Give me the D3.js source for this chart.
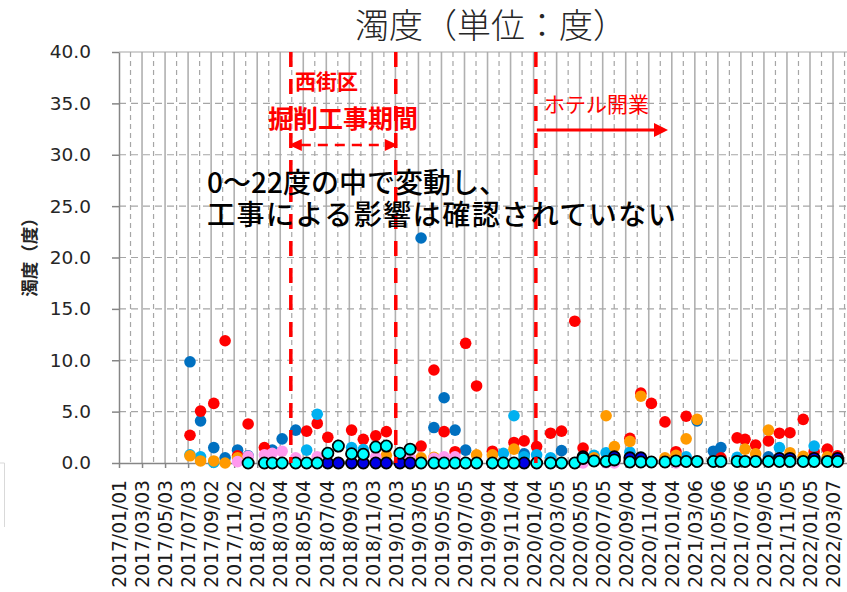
<!DOCTYPE html>
<html>
<head>
<meta charset="utf-8">
<script src="https://cdnjs.cloudflare.com/ajax/libs/d3/7.8.5/d3.min.js"></script>
<style>
  body { margin: 0; background: #fff; }
  svg { display: block; }
</style>
</head>
<body>
<script>
// fechas de muestreo
var fechas = [
  "2017-07-08","2017-08-05","2017-09-09","2017-10-09","2017-11-11","2017-12-09",
  "2018-01-21","2018-02-11","2018-03-09","2018-04-14","2018-05-13","2018-06-10",
  "2018-07-08","2018-08-05","2018-09-09","2018-10-10","2018-11-12","2018-12-10",
  "2019-01-15","2019-02-11","2019-03-12","2019-04-15","2019-05-12","2019-06-10",
  "2019-07-08","2019-08-06","2019-09-17","2019-10-16","2019-11-13","2019-12-10",
  "2020-01-12","2020-02-18","2020-03-18","2020-04-22","2020-05-14","2020-06-12",
  "2020-07-14","2020-08-05","2020-09-15","2020-10-14","2020-11-11","2020-12-17",
  "2021-01-15","2021-02-11","2021-03-12","2021-04-24","2021-05-14","2021-06-26",
  "2021-07-17","2021-08-14","2021-09-17","2021-10-16","2021-11-13","2021-12-18",
  "2022-01-16","2022-02-20","2022-03-19"
]

// valores por punto de medición (null = sin dato)
var rojo = [2.7,5.05,5.8,11.9,0.7,3.8, 1.5,null,null,null,3.1,3.85, 2.5,null,3.2,2.3,2.65,3.05,
  null,null,1.65,9.05,3.05,1.1, 11.65,7.5,1.15,null,2.0,2.15, 1.6,2.9,3.1,13.8,1.45,null,
  null,null,2.4,6.8,5.8,4.0, 1.1,4.55,null,null,0.5,2.45, 2.3,1.75,2.15,2.9,2.95,4.25, 1.1,1.35,0.7]
var azul = [9.85,4.1,1.5,0.5,1.25,0.7, null,1.25,2.35,3.2,null,null, null,null,null,null,null,null,
  null,null,21.9,3.45,6.35,3.2, 1.25,null,null,null,null,0.9, null,null,1.2,null,null,null,
  null,null,null,null,null,null, null,null,4.1,1.15,1.5,null, null,null,0.6,null,null,null, null,null,null]
var celeste = [0.8,0.6,0.05,null,null,null, null,null,null,null,1.25,4.75, null,null,1.5,1.3,null,null,
  null,null,null,null,null,null, null,null,null,0.95,4.6,0.6, 0.8,0.5,null,null,null,0.75,
  1.0,null,1.05,null,null,null, null,0.6,null,null,null,0.55, null,null,null,1.5,null,null, 1.65,null,null]
var naranja = [0.7,0.2,0.2,0.0,0.5,null, null,null,null,null,null,null, null,null,null,null,null,0.75,
  null,null,0.5,0.55,null,null, null,0.8,0.8,null,1.35,null, null,null,null,null,null,0.5,
  4.6,1.6,2.1,6.5,null,0.5, 0.75,2.35,4.25,null,null,null, 1.35,0.9,3.2,null,1.0,0.65, null,0.6,null]
var rosa = [null,null,null,null,0.13,0.65, 0.8,0.95,1.15,0.5,null,0.6, null,null,null,null,0.6,null,
  0.4,0.5,null,0.45,0.6,0.6, null,null,null,null,null,null, null,null,null,0,0,null,
  0,0,null,null,null,null, 0,null,null,null,null,null, null,null,null,null,null,null, null,null,null]
var marino = [null,null,null,null,null,null, null,null,null,null,null,null, 0,0,0,0,0,0,
  0,0,null,null,null,null, null,null,null,null,null,0, null,null,null,null,0.6,null,
  null,0.6,0.5,0.5,null,null, null,null,null,null,null,null, null,null,null,0.45,0.45,null, 0.45,null,0.45]
var cian = [null,null,null,null,null,0, 0,0,0,0,0,0, 0.95,1.65,0.9,0.85,1.55,1.65,
  0.95,1.35,0,0,0,0, 0,0,0,0,0,null, 0,0,0,0,0.45,0.2,
  0.15,0.3,0.1,0.1,0.1,0.1, 0.2,0.15,0.15,0.15,0.15,0.15, 0.15,0.15,0.15,0.15,0.15,0.15, 0.15,0.15,0.15]

// eventos
var inicioObra = "2018-04-01"
var finObra = "2019-01-04"
var aperturaHotel = "2020-01-10"

var series = [
  {valores: azul, color: "#0070C0", borde: "none"},
  {valores: rojo, color: "#FF0000", borde: "none"},
  {valores: celeste, color: "#00B0F0", borde: "none"},
  {valores: naranja, color: "#FF9A00", borde: "none"},
  {valores: rosa, color: "#FF99EE", borde: "none"},
  {valores: marino, color: "#0000E6", borde: "#000"},
  {valores: cian, color: "#00FFFF", borde: "#000"}
]

var parseFecha = d3.utcParse("%Y-%m-%d")
var inicio = parseFecha("2017-01-01")

var W = 847, H = 592
var izq = 119, der = 847, arriba = 52, abajo = 463

var svg = d3.select("body").append("svg")
    .attr("width", W)
    .attr("height", H)

//ESCALAS
var x = d3.scaleUtc()
    .domain([inicio, d3.utcDay.offset(inicio, 1928)])
    .range([izq, der])
var y = d3.scaleLinear()
    .domain([0, 40])
    .range([abajo, arriba])

var mayores = d3.range(32).map(i => d3.utcDay.offset(inicio, 61 * i))
var menores = d3.range(32).map(i => new Date(inicio.getTime() + (61 * i + 30.5) * 864e5))
    .filter(d => d < x.domain()[1])

//REJILLA
var rejilla = svg.append("g")
rejilla.selectAll(".vmenor").data(menores).enter().append("line")
    .attr("x1", d => x(d)).attr("x2", d => x(d))
    .attr("y1", arriba).attr("y2", abajo)
    .attr("stroke", "#a6a6a6").attr("stroke-width", 1.2)
    .attr("stroke-dasharray", "5,4")
rejilla.selectAll(".vmayor").data(mayores.slice(1)).enter().append("line")
    .attr("x1", d => x(d)).attr("x2", d => x(d))
    .attr("y1", arriba).attr("y2", abajo)
    .attr("stroke", "#b0b0b0").attr("stroke-width", 1.6)
rejilla.selectAll(".h").data(d3.range(5, 40, 5)).enter().append("line")
    .attr("x1", izq).attr("x2", der)
    .attr("y1", d => y(d)).attr("y2", d => y(d))
    .attr("stroke", "#a6a6a6").attr("stroke-width", 1.2)
    .attr("stroke-dasharray", "7,5")
rejilla.append("line")
    .attr("x1", izq).attr("x2", der)
    .attr("y1", y(40)).attr("y2", y(40))
    .attr("stroke", "#a6a6a6").attr("stroke-width", 1.2)

//EJE Y
var ejeY = svg.append("g")
    .attr("transform", "translate(" + izq + ",0)")
    .call(d3.axisLeft(y).tickValues(d3.range(0, 41, 5)).tickFormat(d3.format(".1f"))
        .tickSize(7).tickSizeOuter(0).tickPadding(21))
ejeY.select(".domain").attr("stroke", "#868686").attr("stroke-width", 1.5)
ejeY.selectAll(".tick line").attr("stroke", "#868686").attr("stroke-width", 1.5)
ejeY.selectAll("text")
    .style("font-family", "DejaVu Sans")
    .style("font-size", "18.5px")
    .attr("fill", "#262626")

//EJE X
var ejeX = svg.append("g")
    .attr("transform", "translate(0," + abajo + ")")
    .call(d3.axisBottom(x).tickValues(mayores).tickFormat(d3.utcFormat("%Y/%m/%d"))
        .tickSize(5).tickSizeOuter(0))
ejeX.select(".domain").attr("stroke", "#868686").attr("stroke-width", 1.5)
ejeX.selectAll(".tick line").attr("stroke", "#868686").attr("stroke-width", 1.5)
ejeX.selectAll("text")
    .attr("transform", "rotate(-90)")
    .attr("text-anchor", "end")
    .attr("x", -17)
    .attr("y", 0)
    .attr("dy", "0.36em")
    .style("font-family", "DejaVu Sans")
    .style("font-size", "18.7px")
    .attr("fill", "#1a1a1a")

//PUNTOS
series.forEach(function (s) {
    var puntos = fechas.map((f, i) => ({fecha: parseFecha(f), v: s.valores[i]}))
        .filter(d => d.v != null)
    svg.append("g").selectAll("circle").data(puntos).enter().append("circle")
        .attr("cx", d => x(d.fecha))
        .attr("cy", d => y(d.v))
        .attr("r", s.borde == "none" ? 5.8 : 5.6)
        .attr("fill", s.color)
        .attr("stroke", s.borde)
        .attr("stroke-width", 1.8)
})

//LINEAS DE EVENTOS
var eventos = [inicioObra, finObra, aperturaHotel].map(parseFecha)
svg.append("g").selectAll("line").data(eventos).enter().append("line")
    .attr("x1", d => x(d)).attr("x2", d => x(d))
    .attr("y1", arriba).attr("y2", abajo)
    .attr("stroke", "#FF0000").attr("stroke-width", 3.5)
    .attr("stroke-dasharray", "15,12")

//FLECHAS
var xa = x(eventos[0]) - 2, xb = x(eventos[1]) + 2
svg.append("line")
    .attr("x1", xa + 12).attr("x2", xb - 12).attr("y1", 145).attr("y2", 145)
    .attr("stroke", "#FF0000").attr("stroke-width", 2.5).attr("stroke-dasharray", "10,7")
svg.append("path")
    .attr("d", "M" + xa + ",145 L" + (xa + 13) + ",139 L" + (xa + 13) + ",151 Z")
    .attr("fill", "#FF0000")
svg.append("path")
    .attr("d", "M" + xb + ",145 L" + (xb - 13) + ",139 L" + (xb - 13) + ",151 Z")
    .attr("fill", "#FF0000")

var xh = x(eventos[2]) + 1
svg.append("line")
    .attr("x1", xh).attr("x2", 656).attr("y1", 130).attr("y2", 130)
    .attr("stroke", "#FF0000").attr("stroke-width", 3)
svg.append("path")
    .attr("d", "M668,130 L654,123 L654,137 Z")
    .attr("fill", "#FF0000")

//TEXTOS
var jp = "'Noto Sans CJK JP', sans-serif"
svg.append("text")
    .attr("x", 491).attr("y", 38)
    .attr("text-anchor", "middle")
    .style("font-family", jp).style("font-size", "34px").style("font-weight", 300)
    .attr("fill", "#262626")
    .text("濁度（単位：度）")

svg.append("text")
    .attr("transform", "translate(36,253) rotate(-90)")
    .attr("text-anchor", "middle")
    .style("font-family", jp).style("font-size", "17.5px").style("font-weight", "bold")
    .attr("fill", "#262626")
    .text("濁度（度）")

svg.append("text")
    .attr("x", 295).attr("y", 89)
    .style("font-family", jp).style("font-size", "21px").style("font-weight", "bold")
    .attr("fill", "#FF0000")
    .text("西街区")
svg.append("text")
    .attr("x", 268).attr("y", 128)
    .style("font-family", jp).style("font-size", "25px").style("font-weight", "bold")
    .attr("fill", "#FF0000")
    .text("掘削工事期間")
svg.append("text")
    .attr("x", 544).attr("y", 112)
    .style("font-family", jp).style("font-size", "21px")
    .attr("fill", "#FF0000")
    .text("ホテル開業")

// comentario en dos lineas (un solo bloque de texto)
var comentario = svg.append("text")
    .style("font-family", jp).style("font-size", "28px").style("font-weight", 500)
    .attr("fill", "#000")
comentario.append("tspan")
    .attr("x", 207).attr("y", 193)
    .text("0～22度の中で変動し、")
comentario.append("tspan")
    .attr("x", 207).attr("y", 225)
    .style("letter-spacing", "1.5px")
    .text("工事による影響は確認されていない")

// recuadro gris en la esquina
svg.append("path")
    .attr("d", "M0,463 H4.5 V527")
    .attr("fill", "none")
    .attr("stroke", "#d9d9d9")
</script>
</body>
</html>
